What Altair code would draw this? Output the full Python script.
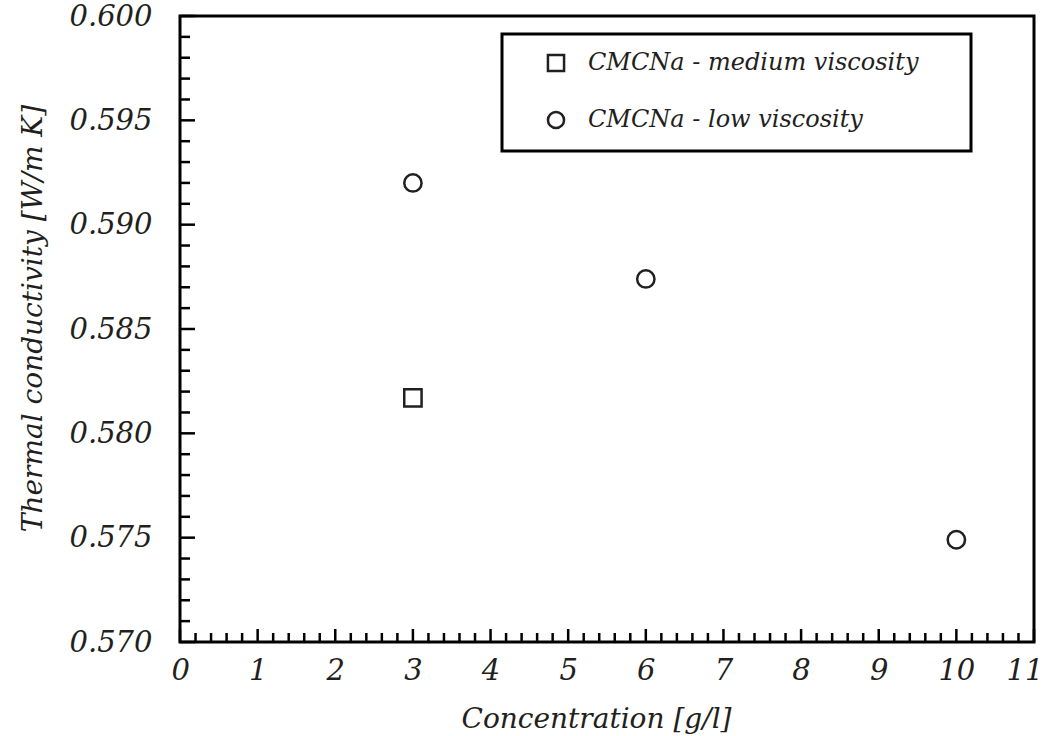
import altair as alt
import pandas as pd

# data
series = ["CMCNa - medium viscosity", "CMCNa - low viscosity", "CMCNa - low viscosity", "CMCNa - low viscosity"]
concentration = [3.0, 3.0, 6.0, 10.0]
conductivity = [0.5817, 0.5920, 0.5874, 0.5749]

x_major = list(range(0, 12))
x_minor = [round(i * 0.2, 1) for i in range(0, 56) if i % 5 != 0]
y_major = [0.570, 0.575, 0.580, 0.585, 0.590, 0.595, 0.600]
y_minor = [round(0.570 + i * 0.001, 3) for i in range(0, 31) if i % 5 != 0]

W, H = 854, 626
FONT = "DejaVu Serif"
INK = "#231f20"

df = pd.DataFrame({"series": series, "conc": concentration, "k": conductivity})
xs = alt.Scale(domain=[0, 11], nice=False, zero=False)
ys = alt.Scale(domain=[0.570, 0.600], nice=False, zero=False)
xaxis = alt.Axis(values=x_major, format="d", labelPadding=14, labelFlush=True, labelFlushOffset=9,
                 labelOverlap=False, titleX=416, titleY=63)
yaxis = alt.Axis(values=y_major, format=".3f", labelPadding=28, labelFlush=False, labelOverlap=False,
                 titleX=-133, titleY=302)
XT = "Concentration [g/l]"
YT = "Thermal conductivity [W/m K]"

points = alt.Chart(df).mark_point(filled=False, size=300, strokeWidth=2.5, color=INK, opacity=1).encode(
    x=alt.X("conc:Q", scale=xs, title=XT, axis=xaxis),
    y=alt.Y("k:Q", scale=ys, title=YT, axis=yaxis),
    shape=alt.Shape("series:N",
                    scale=alt.Scale(domain=["CMCNa - medium viscosity", "CMCNa - low viscosity"],
                                    range=["square", "circle"]),
                    legend=alt.Legend(title="\u00a0", titleOrient="right", titleFontSize=1,
                                      titlePadding=36,
                                      orient="none", legendX=322, legendY=18,
                                      strokeColor="black", padding=17, rowPadding=29,
                                      symbolOffset=25, labelOffset=20, labelLimit=600,
                                      symbolSize=260, symbolStrokeWidth=2.5,
                                      symbolStrokeColor=INK)),
)

def xticks(vals, length):
    return alt.Chart(pd.DataFrame({"conc": vals})).mark_rule(color="black", strokeWidth=2.5).encode(
        x=alt.X("conc:Q", scale=xs, title=XT, axis=xaxis),
        y=alt.value(H), y2=alt.value(H - length))

def yticks(vals, length):
    return alt.Chart(pd.DataFrame({"k": vals})).mark_rule(color="black", strokeWidth=2.5).encode(
        y=alt.Y("k:Q", scale=ys, title=YT, axis=yaxis),
        x=alt.value(0), x2=alt.value(length))

chart = alt.layer(
    points, xticks(x_major, 13), xticks(x_minor, 9), yticks(y_major, 15), yticks(y_minor, 10)
).properties(
    width=W, height=H,
    autosize=alt.AutoSizeParams(type="none"),
    padding={"left": 180, "top": 16, "right": 17, "bottom": 94},
).configure_view(
    stroke="black", strokeWidth=3
).configure_axis(
    domain=False, ticks=False, grid=False,
    labelFont=FONT, labelFontStyle="italic", labelFontSize=29, labelColor=INK,
    titleFont=FONT, titleFontStyle="italic", titleFontSize=28, titleFontWeight="normal", titleColor=INK,
).configure_legend(
    labelFont=FONT, labelFontStyle="italic", labelFontSize=24, labelColor=INK, strokeWidth=3,
)

chart.save("out.html", embed_options={"renderer": "svg", "actions": False})
